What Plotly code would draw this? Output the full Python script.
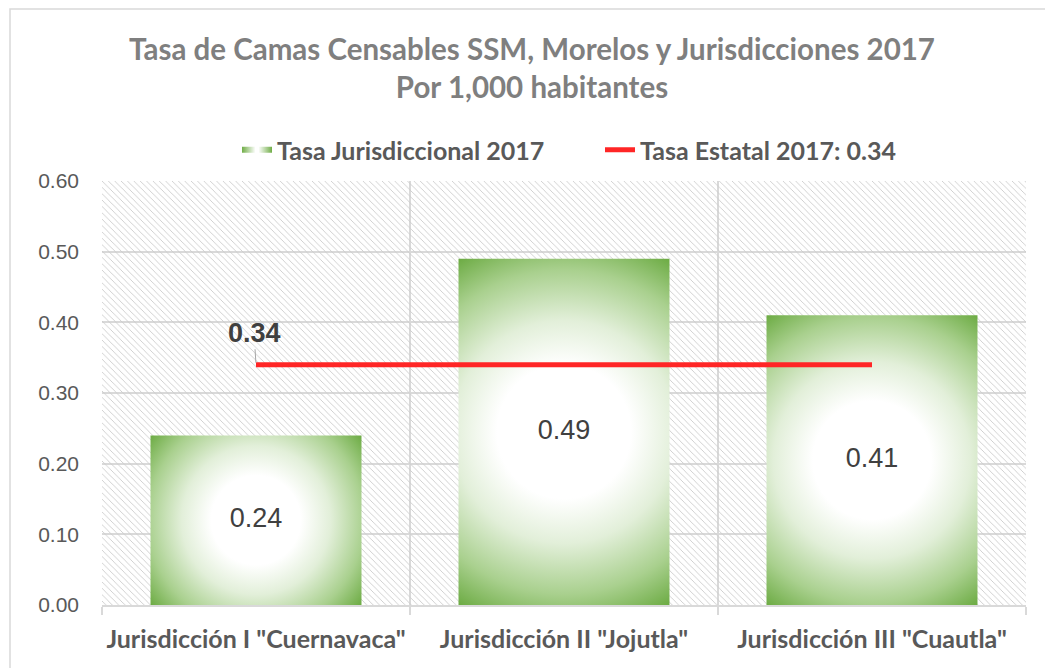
import plotly.graph_objects as go

# ---- data ----
categories = ['Jurisdicción I "Cuernavaca"', 'Jurisdicción II "Jojutla"', 'Jurisdicción III "Cuautla"']
tasa_jurisdiccional = [0.24, 0.49, 0.41]
tasa_estatal = 0.34
y_ticks = [0.0, 0.1, 0.2, 0.3, 0.4, 0.5, 0.6]

# ---- style ----
W, H = 1045, 668
ML, MR, MT, MB = 102, 19, 181, 63
BAR_W = 0.685
GRID = '#d9d9d9'
TXT = '#595959'
CAL = 'Lato, "Open Sans", sans-serif'
ARIAL = '"Liberation Sans", Arial, sans-serif'
y_max = y_ticks[-1]
n = len(categories)
xs_idx = list(range(n))

fig = go.Figure()

# hatched plot-area background
fig.add_trace(go.Bar(
    x=[(n - 1) / 2], y=[y_max], width=[n],
    marker=dict(color='rgba(0,0,0,0)', line=dict(width=0),
                pattern=dict(shape='\\', fgcolor='#cccccc', bgcolor='rgba(0,0,0,0)',
                             size=4.5, solidity=0.2, fillmode='replace')),
    showlegend=False, hoverinfo='skip'))

# gradient bars
grad_scale = [[0, '#ffffff'], [0.33, '#ffffff'], [0.55, '#e2efd9'],
              [0.8, '#a9d08e'], [1, '#6cab43']]
for i, v in enumerate(tasa_jurisdiccional):
    x0, x1 = i - BAR_W / 2, i + BAR_W / 2
    fig.add_trace(go.Scatter(
        x=[x0, x1, x1, x0, x0], y=[0, 0, v, v, 0],
        mode='none', fill='toself',
        fillgradient=dict(type='radial', colorscale=grad_scale),
        name='Tasa Jurisdiccional 2017', legendgroup='tj', showlegend=(i == 0),
        hoverinfo='skip'))

# data labels
fig.add_trace(go.Scatter(
    x=xs_idx, y=[v / 2 for v in tasa_jurisdiccional],
    mode='text', text=[f'{v:.2f}' for v in tasa_jurisdiccional],
    textfont=dict(family=ARIAL, size=27, color='#404040'),
    showlegend=False, hoverinfo='skip'))

# state line
fig.add_trace(go.Scatter(
    x=xs_idx, y=[tasa_estatal] * n, mode='lines',
    line=dict(color='#FF2626', width=5),
    name=f'Tasa Estatal 2017: {tasa_estatal:.2f}', hoverinfo='skip'))

fig.add_annotation(x=0, y=tasa_estatal, xref='x', yref='y',
                   text=f'<b>{tasa_estatal:.2f}</b>', showarrow=True,
                   arrowhead=0, arrowwidth=1, arrowcolor='#a6a6a6',
                   ax=-2, ay=-32, standoff=2,
                   font=dict(family=ARIAL, size=27, color='#404040'))

# outer chart border
pw, ph = W - ML - MR, H - MT - MB
fig.add_shape(type='rect', xref='paper', yref='paper',
              x0=(10 - ML) / pw, x1=(W + 20 - ML) / pw,
              y0=-(H + 20 - (H - MB)) / ph, y1=((H - MB) - 9) / ph,
              line=dict(color=GRID, width=1.5), fillcolor='rgba(0,0,0,0)', layer='below')

fig.update_layout(
    width=W, height=H,
    margin=dict(l=ML, r=MR, t=MT, b=MB, autoexpand=False),
    paper_bgcolor='white', plot_bgcolor='white',
    title=dict(text='Tasa de Camas Censables SSM, Morelos y Jurisdicciones 2017<br>Por 1,000 habitantes',
               x=532 / W, xanchor='center', y=1 - 60 / H, yanchor='top',
               font=dict(family=CAL, size=29.5, color='#7f7f7f', weight='bold')),
    legend=dict(orientation='h', x=(237 - ML) / pw, xanchor='left',
                y=(H - MB - 150) / ph, yanchor='middle',
                font=dict(family=CAL, size=25, color=TXT, weight='bold'),
                entrywidth=318, entrywidthmode='pixels',
                bgcolor='rgba(0,0,0,0)'),
    showlegend=True,
    xaxis=dict(range=[-0.5, n - 0.5], tickvals=xs_idx, ticktext=categories,
               showgrid=False, zeroline=False, ticks='',
               tickfont=dict(family=CAL, size=25, color=TXT, weight='bold'),
               ticklabelstandoff=11,
               showline=True, linecolor=GRID, linewidth=1.5,
               minor=dict(tickvals=[i - 0.5 for i in range(n + 1)], showgrid=True,
                          gridcolor=GRID, gridwidth=1.5, ticks='outside', ticklen=8,
                          tickcolor=GRID, tickwidth=1.5),
               fixedrange=True),
    yaxis=dict(range=[0, y_max], tickvals=y_ticks, tickformat='.2f',
               showgrid=True, gridcolor=GRID, gridwidth=1.5, zeroline=False,
               tickfont=dict(family=ARIAL, size=21, color=TXT),
               ticklabelstandoff=22, fixedrange=True),
    barmode='overlay',
)

post_js = r"""
(function(){
  document.body.style.margin = '0';
  var gd = document.getElementById('{plot_id}');
  var NS = 'http://www.w3.org/2000/svg';
  function refId(el){
    var f = (el.style && el.style.fill) || el.getAttribute('fill') || '';
    var m = f.match(/url\(["']?#([^"')]+)["']?\)/);
    return m ? m[1] : null;
  }
  function fix(){
    if(!gd) return;
    gd.querySelectorAll('.scatterlayer .js-fill').forEach(function(p){
      var id = refId(p); if(!id) return;
      var g = document.getElementById(id);
      if(!g || g.tagName.toLowerCase() !== 'radialgradient') return;
      var b = p.getBBox(); if(!(b.width > 0)) return;
      var cx = b.x + b.width/2, cy = b.y + b.height/2;
      g.setAttribute('gradientUnits', 'userSpaceOnUse');
      g.setAttribute('cx', cx); g.setAttribute('cy', cy);
      g.setAttribute('fx', cx); g.setAttribute('fy', cy);
      g.setAttribute('r', Math.sqrt(b.width*b.width + b.height*b.height)/2);
    });
    var svg = gd.querySelector('svg.main-svg');
    var defs = svg && svg.querySelector('defs');
    if(defs && !document.getElementById('legend-lin-grad')){
      var lg = document.createElementNS(NS, 'linearGradient');
      lg.setAttribute('id', 'legend-lin-grad');
      lg.setAttribute('x1','0'); lg.setAttribute('x2','1');
      lg.setAttribute('y1','0'); lg.setAttribute('y2','0');
      [['0','#70AD47'],['0.45','#ffffff'],['0.55','#ffffff'],['1','#70AD47']].forEach(function(s){
        var st = document.createElementNS(NS, 'stop');
        st.setAttribute('offset', s[0]); st.setAttribute('stop-color', s[1]);
        lg.appendChild(st);
      });
      defs.appendChild(lg);
    }
    gd.querySelectorAll('.legend path').forEach(function(p){
      var id = refId(p); if(!id) return;
      var g = document.getElementById(id);
      if(g && g.tagName.toLowerCase() === 'radialgradient'){
        p.style.fill = 'url(#legend-lin-grad)';
      }
    });
  }
  setTimeout(fix, 0);
  setTimeout(fix, 300);
  if(gd && gd.on) gd.on('plotly_afterplot', fix);
})();
"""

fig.write_html('out.html', post_script=post_js, config={'displayModeBar': False})
